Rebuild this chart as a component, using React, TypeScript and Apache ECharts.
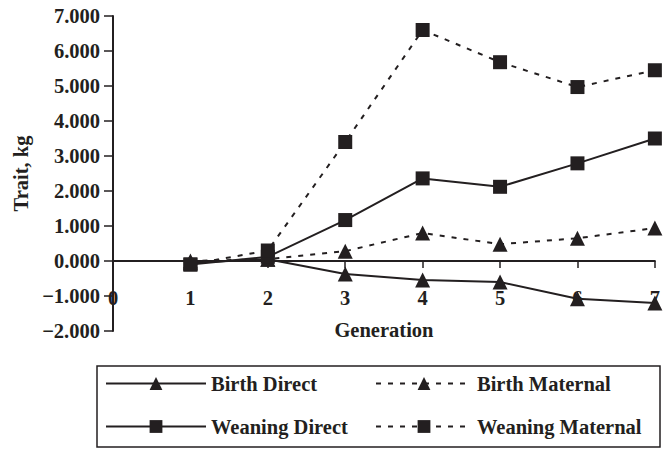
import React, { useEffect, useRef } from "react";
import * as echarts from "echarts";

const generations = [1, 2, 3, 4, 5, 6, 7];
const birthDirect = [-0.05, 0.05, -0.37, -0.54, -0.6, -1.08, -1.2];
const birthMaternal = [0.0, 0.05, 0.28, 0.8, 0.48, 0.65, 0.94];
const weaningDirect = [-0.1, 0.12, 1.17, 2.36, 2.12, 2.79, 3.5];
const weaningMaternal = [-0.1, 0.3, 3.4, 6.6, 5.68, 4.97, 5.45];

const INK = "#231f20";
const FONT = '"Liberation Serif", "Times New Roman", serif';

function pairs(vals: number[]) {
  return generations.map((g, i) => [g, vals[i]]);
}

const ts = () => ({ fontFamily: FONT, fontWeight: "bold", fontSize: 20.5, color: INK });

export default function App() {
  const ref = useRef<HTMLDivElement>(null);
  useEffect(() => {
    if (!ref.current) return;
    const chart = echarts.init(ref.current, undefined, { renderer: "svg" });
    const mk = (name: string, data: number[], symbol: string, dashed: boolean, size: number) => ({
      name,
      type: "line",
      data: pairs(data),
      symbol,
      symbolSize: size,
      clip: false,
      itemStyle: { color: INK },
      lineStyle: { color: INK, width: 2, type: dashed ? [5, 7] : "solid" },
    });
    chart.setOption({
      animation: false,
      textStyle: { fontFamily: FONT, color: INK },
      grid: { left: 113, right: 2, top: 16, bottom: 121 },
      xAxis: {
        type: "value",
        min: 0,
        max: 7,
        interval: 1,
        position: "bottom",
        offset: -70,
        name: "Generation",
        nameLocation: "middle",
        nameGap: 58,
        nameTextStyle: ts(),
        axisLine: { onZero: false, lineStyle: { color: INK, width: 2 } },
        axisTick: { show: true, length: 7, lineStyle: { color: INK, width: 1.5 } },
        axisLabel: { margin: 26, ...ts() },
        splitLine: { show: false },
      },
      yAxis: {
        type: "value",
        min: -2,
        max: 7,
        interval: 1,
        name: "Trait, kg",
        nameLocation: "middle",
        nameGap: 81,
        nameRotate: 90,
        nameTextStyle: ts(),
        axisLine: { show: true, onZero: false, lineStyle: { color: INK, width: 2 } },
        axisTick: { show: true, length: 9, lineStyle: { color: INK, width: 1.5 } },
        axisLabel: {
          margin: 13,
          ...ts(),
          formatter: (v: number) => (v < 0 ? "\u2212" + Math.abs(v).toFixed(3) : v.toFixed(3)),
        },
        splitLine: { show: false },
      },
      legend: [
        {
          data: ["Birth Direct", "Weaning Direct"],
          orient: "vertical",
          left: 100,
          top: 368,
          itemWidth: 100,
          itemHeight: 16,
          itemGap: 22,
          textStyle: ts(),
        },
        {
          data: ["Birth Maternal", "Weaning Maternal"],
          orient: "vertical",
          left: 370,
          top: 368,
          itemWidth: 96,
          itemHeight: 16,
          itemGap: 22,
          textStyle: ts(),
        },
      ],
      graphic: [
        {
          type: "rect",
          shape: { x: 97, y: 366, width: 563, height: 81 },
          style: { fill: "none", stroke: INK, lineWidth: 1.5 },
        },
      ],
      series: [
        mk("Birth Direct", birthDirect, "triangle", false, 15),
        mk("Birth Maternal", birthMaternal, "triangle", true, 15),
        mk("Weaning Direct", weaningDirect, "rect", false, 14),
        mk("Weaning Maternal", weaningMaternal, "rect", true, 14),
      ],
    });
    return () => chart.dispose();
  }, []);
  return <div ref={ref} style={{ width: 663, height: 452, position: "absolute", left: 0, top: 0 }} />;
}
